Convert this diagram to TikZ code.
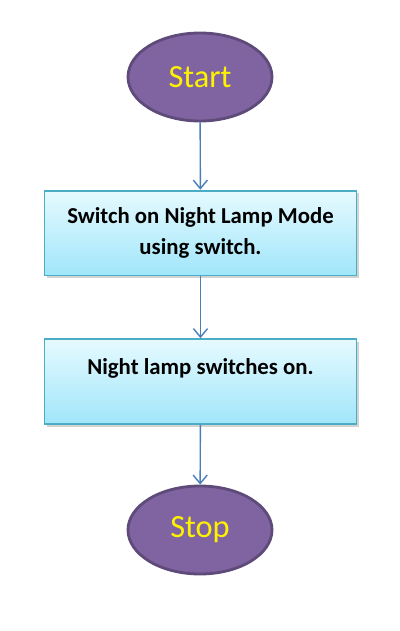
\documentclass[tikz,border=0pt]{standalone}
\usepackage{fontspec}
\setmainfont{Carlito}
\usetikzlibrary{shapes.geometric,shadows,arrows.meta}
\definecolor{termfill}{RGB}{128, 100, 162}
\definecolor{termline}{RGB}{94, 75, 122}
\definecolor{boxtop}{RGB}{230, 250, 255}
\definecolor{boxbottom}{RGB}{160, 230, 250}
\definecolor{boxline}{RGB}{75, 172, 198}
\definecolor{flowblue}{RGB}{74, 126, 187}

\tikzset{
    terminal/.style={ellipse, draw=termline, line width=2pt, fill=termfill,
        minimum width=3.6cm, minimum height=2.2cm, inner sep=0pt,
        text=yellow, font=\fontsize{23}{27}\selectfont},
    process/.style={rectangle, draw=boxline, line width=1.3pt,
        top color=boxtop, bottom color=boxbottom,
        drop shadow={shadow xshift=2pt, shadow yshift=-2pt, opacity=0.35},
        minimum width=7.8cm, minimum height=2.12cm, align=center,
        font=\bfseries\fontsize{16.2}{22}\selectfont},
    flow/.style={-{Straight Barb[length=6pt, width=10pt]}, flowblue, line width=1pt}
}

\begin{document}
\begin{tikzpicture}[x=0.025cm, y=-0.025cm]
    % page frame
    \useasboundingbox (0, 0) rectangle (400, 631);

    % start and stop
    \node[terminal] (start) at (200, 77) {Start};
    \node[terminal] (stop) at (200, 530) {Stop};

    % process steps
    \node[process] (mode) at (200.5, 233) {Switch on Night Lamp Mode\\using switch.};
    \node[process] (lampon) at (200.5, 381.5) {Night lamp switches on.\\~};

    % flow
    \draw[flow] (start) -- (mode);
    \draw[flow] (mode) -- (lampon);
    \draw[flow] (lampon) -- (stop);
\end{tikzpicture}
\end{document}
